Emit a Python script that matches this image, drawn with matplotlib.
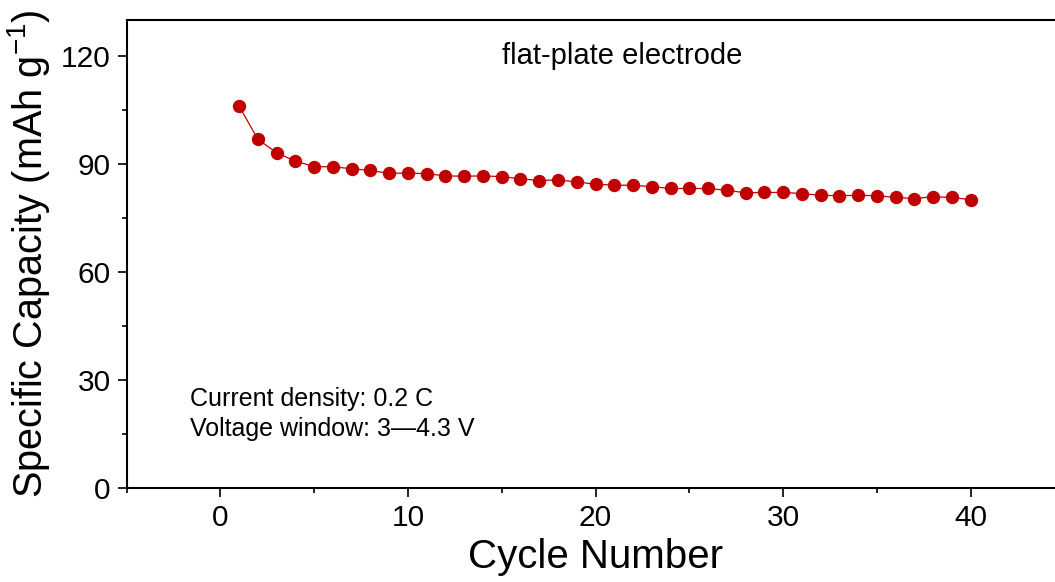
import matplotlib
matplotlib.use("Agg")
import matplotlib.pyplot as plt
from matplotlib.ticker import MultipleLocator

plt.rcParams['font.family'] = ['Liberation Sans', 'DejaVu Sans']
plt.rcParams['mathtext.fontset'] = 'custom'
plt.rcParams['mathtext.rm'] = 'Liberation Sans'
plt.rcParams['mathtext.it'] = 'Liberation Sans'

cycles = list(range(1, 41))
capacity = [106.1, 96.9, 93.1, 90.8, 89.3, 89.2, 88.7, 88.2, 87.4, 87.5,
            87.3, 86.7, 86.6, 86.7, 86.5, 85.9, 85.4, 85.6, 85.0, 84.4,
            84.1, 84.1, 83.7, 83.2, 83.2, 83.2, 82.7, 82.0, 82.1, 82.1,
            81.8, 81.3, 81.2, 81.3, 81.2, 80.7, 80.4, 80.9, 80.7, 80.1]

W, H = 1055, 582
fig = plt.figure(figsize=(W / 100, H / 100), dpi=100)
left, right, top, bottom = 126.5, 1064.5, 20, 488
ax = fig.add_axes([left / W, 1 - bottom / H, (right - left) / W, (bottom - top) / H])

color = '#C00000'
ax.plot(cycles, capacity, '-o', color=color, lw=0.9, ms=8.6, mec=color, mfc=color)

ax.set_xlim(-5, 45)
ax.set_ylim(0, 130)
ax.xaxis.set_major_locator(MultipleLocator(10))
ax.xaxis.set_minor_locator(MultipleLocator(5))
ax.yaxis.set_major_locator(MultipleLocator(30))
ax.yaxis.set_minor_locator(MultipleLocator(15))
ax.tick_params(which='major', direction='out', length=6.5, width=1.2, labelsize=21.5, pad=5)
ax.tick_params(which='minor', direction='out', length=3.5, width=1.2)
for s in ['left', 'bottom', 'top']:
    ax.spines[s].set_linewidth(1.5)
ax.spines['right'].set_visible(False)

ax.set_xlabel('Cycle Number', fontsize=29, labelpad=4)
ax.set_ylabel('Specific Capacity (mAh g$^{-1}$)', fontsize=28.5, labelpad=6)

ax.text(21.4, 120, 'flat-plate electrode', fontsize=21, ha='center', va='center')
ax.text(-1.6, 20.5, 'Current density: 0.2 C\nVoltage window: 3\u20144.3 V', fontsize=18,
        ha='left', va='center', linespacing=1.3)

fig.savefig('out.png', dpi=100)
